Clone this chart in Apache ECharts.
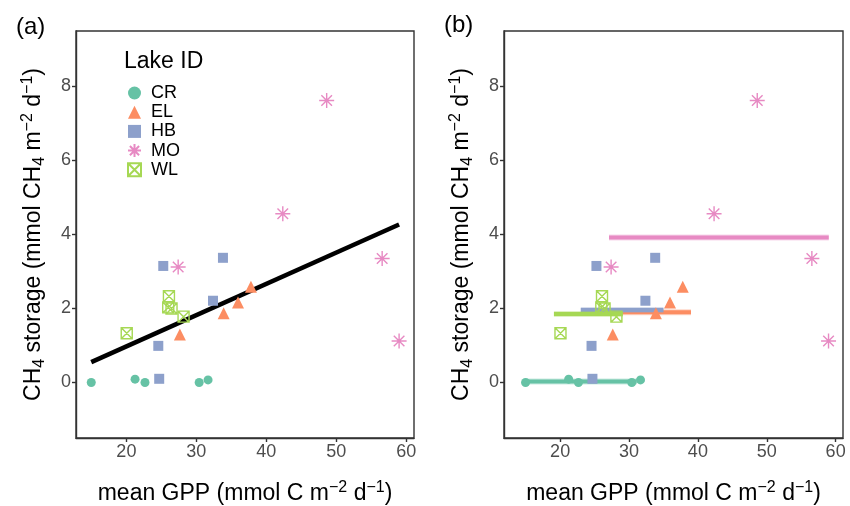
<!DOCTYPE html>
<html>
<head>
    <meta charset="utf-8">
    <title>CH4 storage vs GPP</title>
    <script src="https://cdn.jsdelivr.net/npm/echarts@6/dist/echarts.min.js"></script>
    <style>
        html, body { margin: 0; padding: 0; background: #fff; }
        #chart { width: 850px; height: 506px; }
    </style>
</head>
<body>
    <div id="chart"></div>
    <script>
        // lakes and their points [mean GPP, CH4 storage]
        var lakes = ['CR', 'EL', 'HB', 'MO', 'WL'];
        var crPts = [[14.98, 0.00], [21.24, 0.09], [22.66, 0.00], [30.40, 0.00], [31.67, 0.07]];
        var elPts = [[27.64, 1.30], [33.90, 1.87], [35.95, 2.16], [37.80, 2.59]];
        var hbPts = [[24.69, 0.10], [24.56, 0.99], [25.27, 3.15], [32.38, 2.21], [33.80, 3.37]];
        var moPts = [[27.40, 3.12], [42.35, 4.56], [48.62, 7.62], [56.55, 3.35], [58.97, 1.12]];
        var wlPts = [[20.05, 1.33], [25.98, 2.03], [26.45, 2.00], [26.08, 2.33], [28.17, 1.78]];

        // overall linear fit (panel a)
        var fitLine = [[14.98, 0.55], [58.97, 4.27]];

        // per-lake mean lines (panel b): [x start, x end, mean]
        var meanCR = [15.0, 31.1, 0.03];
        var meanEL = [26.5, 39.0, 1.90];
        var meanHB = [23.0, 35.0, 1.96];
        var meanMO = [27.1, 59.0, 3.92];
        var meanWL = [19.1, 29.1, 1.85];

        var xTicks = [20, 30, 40, 50, 60];
        var yTicks = [0, 2, 4, 6, 8];

        var colors = { CR: '#66C2A5', EL: '#FC8D62', HB: '#8DA0CB', MO: '#E78AC3', WL: '#A6D854' };
        var pts = { CR: crPts, EL: elPts, HB: hbPts, MO: moPts, WL: wlPts };
        var means = { CR: meanCR, EL: meanEL, HB: meanHB, MO: meanMO, WL: meanWL };

        var FONT = 'Liberation Sans';
        var symbols = {
            CR: { symbol: 'circle', size: 9 },
            EL: { symbol: 'triangle', size: 12 },
            HB: { symbol: 'rect', size: 10 },
            MO: { symbol: 'path://M8,0L8,16M0,8L16,8M2.34,2.34L13.66,13.66M13.66,2.34L2.34,13.66', size: 15, stroke: true },
            WL: { symbol: 'path://M0,0L10,0L10,10L0,10ZM0,0L10,10M10,0L0,10', size: 11, stroke: true }
        };

        function itemStyleFor(id) {
            if (symbols[id].stroke) {
                return { color: 'rgba(0,0,0,0)', borderColor: colors[id], borderWidth: 1.4, opacity: 1 };
            }
            return { color: colors[id], borderWidth: 0, opacity: 1 };
        }

        function makeX(grid, min, max) {
            return {
                gridIndex: grid, type: 'value', min: min, max: max,
                name: 'mean GPP (mmol C m{p|−2} d{p|−1})',
                nameLocation: 'middle', nameGap: 42,
                nameTextStyle: {
                    fontFamily: FONT, fontSize: 23, color: '#000', lineHeight: 28,
                    rich: { p: { fontFamily: FONT, fontSize: 16, lineHeight: 16, verticalAlign: 'top', color: '#000' } }
                },
                splitLine: { show: false },
                axisLine: { show: true, onZero: false, lineStyle: { color: '#333', width: 1.4 } },
                axisTick: { show: true, length: 4, customValues: xTicks, lineStyle: { color: '#333', width: 1.4 } },
                axisLabel: { customValues: xTicks, fontFamily: FONT, fontSize: 18, color: '#4D4D4D', margin: 5 }
            };
        }

        function makeY(grid) {
            return {
                gridIndex: grid, type: 'value', min: -1.5, max: 9.5,
                name: 'CH{s|4} storage (mmol CH{s|4} m{p|−2} d{p|−1})',
                nameLocation: 'middle', nameGap: 28, nameRotate: 90,
                nameTextStyle: {
                    fontFamily: FONT, fontSize: 23, color: '#000', lineHeight: 28,
                    rich: {
                        s: { fontFamily: FONT, fontSize: 16, lineHeight: 16, verticalAlign: 'bottom', color: '#000' },
                        p: { fontFamily: FONT, fontSize: 16, lineHeight: 16, verticalAlign: 'top', color: '#000' }
                    }
                },
                splitLine: { show: false },
                axisLine: { show: true, onZero: false, lineStyle: { color: '#333', width: 1.4 } },
                axisTick: { show: true, length: 4, customValues: yTicks, lineStyle: { color: '#333', width: 1.4 } },
                axisLabel: { customValues: yTicks, fontFamily: FONT, fontSize: 18, color: '#4D4D4D', margin: 5 }
            };
        }

        var series = [];
        // panel a fit line
        series.push({
            type: 'line', xAxisIndex: 0, yAxisIndex: 0, data: fitLine,
            symbol: 'none', lineStyle: { color: '#000', width: 4.5 }, z: 1, silent: true
        });
        // panel b mean lines, with a faint halo like the reference
        lakes.forEach(function (id) {
            var m = means[id];
            series.push({
                type: 'line', xAxisIndex: 1, yAxisIndex: 1,
                data: [[m[0], m[2]], [m[1], m[2]]],
                symbol: 'none', lineStyle: { color: colors[id], width: 6, opacity: 0.35 }, z: 1, silent: true
            });
            series.push({
                type: 'line', xAxisIndex: 1, yAxisIndex: 1,
                data: [[m[0], m[2]], [m[1], m[2]]],
                symbol: 'none', lineStyle: { color: colors[id], width: 4 }, z: 1, silent: true
            });
        });
        // points in both panels
        [0, 1].forEach(function (g) {
            lakes.forEach(function (id) {
                series.push({
                    name: id, type: 'scatter', xAxisIndex: g, yAxisIndex: g,
                    data: pts[id], symbol: symbols[id].symbol, symbolSize: symbols[id].size,
                    itemStyle: itemStyleFor(id), z: 3
                });
            });
        });

        var option = {
            animation: false,
            backgroundColor: '#fff',
            title: [
                { text: '(a)', left: 11, top: 10, textStyle: { fontFamily: FONT, fontSize: 24, fontWeight: 'normal', color: '#000' } },
                { text: '(b)', left: 439, top: 8, textStyle: { fontFamily: FONT, fontSize: 24, fontWeight: 'normal', color: '#000' } },
                { text: 'Lake ID', left: 119, top: 45, textStyle: { fontFamily: FONT, fontSize: 23, fontWeight: 'normal', color: '#000' } }
            ],
            legend: {
                data: lakes, orient: 'vertical', left: 122, top: 79,
                itemWidth: 13, itemHeight: 13, itemGap: 1.2,
                textStyle: { fontFamily: FONT, fontSize: 18, color: '#000', padding: [0, 0, 0, 5] }
            },
            grid: [
                { left: 76, top: 31, width: 338, height: 407, show: true, borderColor: '#333', borderWidth: 1.4, outerBoundsMode: 'none', containLabel: false },
                { left: 504, top: 31, width: 339, height: 407, show: true, borderColor: '#333', borderWidth: 1.4, outerBoundsMode: 'none', containLabel: false }
            ],
            xAxis: [makeX(0, 12.8, 61.1), makeX(1, 11.85, 61.07)],
            yAxis: [makeY(0), makeY(1)],
            series: series
        };

        var myChart = echarts.init(document.getElementById('chart'));
        myChart.setOption(option, true);
    </script>
</body>
</html>
